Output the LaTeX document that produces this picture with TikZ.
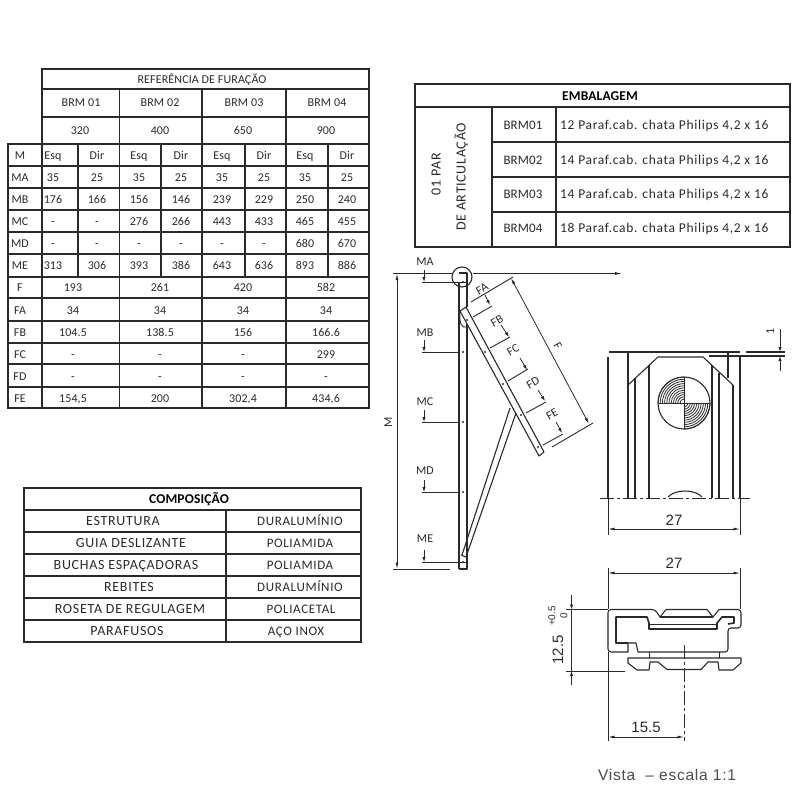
\documentclass[tikz,border=0pt]{standalone}
\usepackage{fontspec}
\usetikzlibrary{arrows.meta}
\newfontfamily\isofont[LetterSpace=1]{Carlito}
\newfontfamily\wideiso[LetterSpace=5]{Carlito}
\newfontfamily\dimfont{Liberation Sans}
\newfontfamily\vistafont[LetterSpace=5]{Liberation Sans}
\definecolor{inkc}{HTML}{2A2A2A}
\begin{document}
\begin{tikzpicture}[x=1pt,y=-1pt]

\tikzset{tabline/.style={line width=1.1pt,draw=inkc,line cap=round},}
\tikzset{thin line/.style={line width=0.9pt,draw=inkc},}
\tikzset{part/.style={line width=1.1pt,draw=inkc,line join=round},}
\tikzset{dimarrow/.style={line width=0.8pt,draw=inkc,<->,>={Latex[length=6.5pt,width=3pt]}},}
\tikzset{markarrow/.style={line width=0.8pt,draw=inkc,->,>={Latex[length=5pt,width=3.4pt]}},}
\tikzset{axis/.style={line width=0.8pt,draw=inkc,dash pattern=on 14pt off 3pt on 3pt off 3pt},}
\tikzset{cell/.style={inner sep=0pt,text=inkc,text height=8pt,text depth=0pt,font=\isofont\fontsize{12}{14}\selectfont},}
\tikzset{cellbig/.style={inner sep=0pt,text=inkc,text height=9pt,text depth=0pt,font=\wideiso\fontsize{14}{16}\selectfont},}
\tikzset{cellmat/.style={cellbig,font=\wideiso\fontsize{13}{15}\selectfont},}
\tikzset{title/.style={inner sep=0pt,text=black,text height=9pt,text depth=0pt,font=\isofont\bfseries\fontsize{13.5}{15}\selectfont},}
\tikzset{dimtext/.style={inner sep=0pt,text=inkc,font=\dimfont\fontsize{15}{17}\selectfont},}

\useasboundingbox (0,0) rectangle (800,800);

% furacao table
\draw[tabline] (42,144) -- (42,69) -- (369,69) -- (369,408) -- (8,408) -- (8,144) -- (369,144);
\foreach \yy in {89,117,166,188,210,232,254,277,298,321,343,364,387}
	\draw[tabline] ({\yy<144 ? 42 : 8},\yy) -- (369,\yy);
\foreach \xx in {42,119.5,202,286}
	\draw[tabline] (\xx,{\xx<43 ? 69 : 89}) -- (\xx,408);
\foreach \xx in {78,161,245,328}
	\draw[tabline] (\xx,144) -- (\xx,277);

\node[cell] (furacao) at (202,79) {REFERÊNCIA DE FURAÇÃO};
\foreach \xx/\txt [count=\i] in {81/BRM 01,160/BRM 02,244/BRM 03,327/BRM 04}
	\node[cell] (brm\i) at (\xx,102) {\txt};
\foreach \xx/\txt [count=\i] in {80/320,160/400,243/650,326/900}
	\node[cell] (mm\i) at (\xx,130) {\txt};

\foreach \yy/\rowlab/\vals in {
	155/M/{Esq,Dir,Esq,Dir,Esq,Dir,Esq,Dir},
	177/MA/{35,25,35,25,35,25,35,25},
	199/MB/{176,166,156,146,239,229,250,240},
	221/MC/{-,-,276,266,443,433,465,455},
	243/MD/{-,-,-,-,-,-,680,670},
	265/ME/{313,306,393,386,643,636,893,886}}{
	\node[cell] (lab\rowlab) at (20,\yy) {\rowlab};
	\foreach \val [count=\i] in \vals {
		\pgfmathsetmacro\xx{{53,97,139,181,222,264,305,347}[\i-1]}
		\node[cell] (c\rowlab\i) at (\xx,\yy) {\val};
	}
}

\foreach \rowlab/\yy/\va/\vb/\vc/\vd in {
	F/287/193/261/420/582,
	FA/310/34/34/34/34,
	FB/332/104.5/138.5/156/166.6,
	FC/354/-/-/-/299,
	FD/376/-/-/-/-,
	FE/398/{154,5}/200/{302,4}/{434,6}}{
	\node[cell] (lab\rowlab) at (20,\yy) {\rowlab};
	\node[cell] (c\rowlab1) at (73,\yy) {\va};
	\node[cell] (c\rowlab2) at (160,\yy) {\vb};
	\node[cell] (c\rowlab3) at (243,\yy) {\vc};
	\node[cell] (c\rowlab4) at (326,\yy) {\vd};
}

% embalagem table
\draw[tabline] (415,84) rectangle (790,247);
\draw[tabline] (415,107) -- (790,107);
\foreach \yy in {142,177,212}
	\draw[tabline] (492,\yy) -- (790,\yy);
\draw[tabline] (492,107) -- (492,247);
\draw[tabline] (556,107) -- (556,247);

\node[title] (embalagem) at (600,96) {EMBALAGEM};
\node[cellbig,rotate=90] (par) at (436,174) {01 PAR};
\node[cellbig,rotate=90] (articulacao) at (461,177) {DE ARTICULAÇÃO};
\foreach \yy/\code/\qty in {125/BRM01/12,160/BRM02/14,194/BRM03/14,228/BRM04/18}{
	\node[cell,font=\isofont\fontsize{13}{15}\selectfont] (\code) at (523,\yy) {\code};
	\node[cellbig,anchor=west,font=\wideiso\fontsize{13.5}{15}\selectfont] (desc\code) at (560,\yy) {\qty{} Paraf.cab. chata Philips 4,2 x 16};
}

% composicao table
\draw[tabline] (24,488) rectangle (361,642);
\foreach \yy in {510,532,554,576,598,620}
	\draw[tabline] (24,\yy) -- (361,\yy);
\draw[tabline] (226,510) -- (226,642);

\node[title] (composicao) at (189,499) {COMPOSIÇÃO};
\foreach \yy/\xa/\parte/\xb/\mat [count=\i] in {
	521/123/ESTRUTURA/300/DURALUMÍNIO,
	543/131/GUIA DESLIZANTE/300/POLIAMIDA,
	565/126/BUCHAS ESPAÇADORAS/300/POLIAMIDA,
	587/129/REBITES/300/DURALUMÍNIO,
	609/130/ROSETA DE REGULAGEM/301/POLIACETAL,
	631/127/PARAFUSOS/296/AÇO INOX}{
	\node[cellbig] (parte\i) at (\xa,\yy) {\parte};
	\node[cellmat] (mat\i) at (\xb,\yy) {\mat};
}

% side view
\draw[thin line] (393,273.5) -- (452,273.5);
\draw[thin line,->,>={Latex[length=7pt,width=3pt]}] (473,273.5) -- (622,273.5);
\draw[part] (462,277) circle (10);
\draw[part,line width=1.6pt] (459,282) -- (459,569);
\draw[part] (459,273) -- (467,273) -- (467,307);
\draw[part] (467,324) -- (467,569) -- (459,569);
\draw[thin line] (459,282) -- (467,282);
\draw[thin line] (459,562) -- (467,562);
\foreach \yy in {282,352,422,492,562}
	\fill[inkc] (463,\yy) circle (1.2);

\draw[dimarrow] (397,273.5) -- (397,569);
\draw[thin line] (393,569) -- (450,569);
\node[cell,rotate=90] (dimM) at (388,422) {M};

\foreach \yy/\rowlab/\ty in {282/MA/261,352/MB/332,422/MC/401,492/MD/470,562/ME/538}{
	\node[cell] (mark\rowlab) at (425,\ty) {\rowlab};
	\draw[thin line] (422,\yy) -- (460,\yy);
	\draw[markarrow] (424,\yy-12) -- (424,\yy);
}

% inclined arm
\draw[part] (460,311) -- (466,307) -- (544,452) -- (539,456) -- cycle;
\draw[thin line] (460,311) .. controls (459,322) and (461,329) .. (467,327);
\foreach \xx/\yy in {467/320,485/352,503/384,521/415,538/447}
	\fill[inkc] (\xx,\yy) circle (1.1);
\draw[part] (510,408) -- (462,555);
\draw[part] (516,413) -- (466,557) -- (461,555);

\draw[dimarrow] (511,278) -- (589,424);
\draw[thin line] (471,302) -- (513,277);
\draw[thin line] (552,447) -- (593,423);
\draw[thin line] (473,317) -- (492,306);
\draw[thin line] (490,348) -- (510,337);
\draw[thin line] (508,381) -- (528,369);
\draw[thin line] (526,413) -- (546,402);
\draw[thin line] (543,445) -- (563,434);
\foreach \xa/\ya/\xb/\yb/\txt/\tx/\ty in {
	485/295/490/305/FA/482/289,
	501/325/509/337/FB/497/321,
	520/358/527/370/FC/513/350,
	538/390/545/401/FD/533/383,
	556/422/562/433/FE/552/414}{
	\draw[markarrow] (\xa,\ya) -- (\xb,\yb);
	\node[cell,rotate=30] (arm\txt) at (\tx,\ty) {\txt};
}
\node[cell,rotate=-60] (dimF) at (558,346) {F};

% middle view
\draw[part] (609,352) -- (740,352);
\draw[part] (746,352) -- (785,352);
\draw[part] (709,356) -- (785,356);
\draw[part] (628,385) -- (658,357) -- (703,357) -- (733,385);
\draw[part] (608,357) -- (608,498);
\draw[part] (740,356) -- (740,498);
\foreach \xx/\ya in {628/352,635/378,649/365,712/365,719/373,733/385}
	\draw[part] (\xx,\ya) -- (\xx,498);
\draw[part] (728,352) -- (728,378);
\draw[axis] (600,498) -- (750,498);
\draw[part] (668,497) .. controls (675,489) and (695,489) .. (702,497);

\draw[part] (684,403) circle (26);
\foreach \rr in {4,6.2,...,26}{
	\draw[line width=0.8pt,draw=inkc] ([shift={(90:\rr pt)}]684,403) arc[start angle=90,end angle=180,radius=\rr pt];
	\draw[line width=0.8pt,draw=inkc] ([shift={(270:\rr pt)}]684,403) arc[start angle=270,end angle=360,radius=\rr pt];
}
\draw[thin line] (658,403) -- (710,403);
\draw[thin line] (684,377) -- (684,429);

\draw[thin line] (608,498) -- (608,535);
\draw[thin line] (740,498) -- (740,535);
\draw[dimarrow] (608,529) -- (740,529);
\node[dimtext] (dimA) at (674,520) {27};

\draw[markarrow] (780,329) -- (780,352);
\draw[markarrow] (780,371) -- (780,356);
\node[cell,rotate=90] (dimB) at (770,331) {1};

% profile view
\draw[part,rounded corners=3pt] (608,609.5) -- (655,609.5) [sharp corners] -- (660,617) -- (666,609.5) -- (707,609.5) -- (713,617) -- (719,609.5) [rounded corners=3pt] -- (741,609.5) -- (741,628) -- (728,628) -- (728,652) [sharp corners] -- (638,652) -- (636,643) -- (628,643) -- (628,652) [rounded corners=3pt] -- (608,652) -- cycle;
\draw[part] (660,617) -- (713,617);
\draw[part,line width=1.6pt] (628,643) -- (616,643) -- (616,617) -- (647,617) -- (649,623) -- (649,629) -- (717,629) -- (717,623) -- (722,617) -- (734,617) -- (734,623) -- (728,624);
\draw[thin line] (650,624) -- (717,624);
\draw[part] (628,658) -- (741,658) -- (741,663) -- (733,670) -- (719,670) -- (718,662) -- (708,662) -- (701,669.5) -- (667,669.5) -- (658,662) -- (650,662) -- (649,670) -- (637,670) -- (628,663) -- cycle;
\draw[thin line] (649,652) -- (649,658);
\draw[thin line] (719,652) -- (719,658);
\draw[axis] (684,645) -- (684,741);

\draw[thin line] (608,568) -- (608,609);
\draw[thin line] (608,652) -- (608,741);
\draw[thin line] (740,568) -- (740,609);
\draw[dimarrow] (608,573) -- (740,573);
\node[dimtext] (dimC) at (674,563) {27};

\draw[dimarrow] (608,737) -- (684,737);
\node[dimtext] (dimD) at (646,727) {15.5};

\draw[thin line] (566,609.5) -- (608,609.5);
\draw[thin line] (566,671) -- (625,671);
\draw[thin line] (571.5,609.5) -- (571.5,671);
\draw[markarrow] (571.5,595) -- (571.5,609.5);
\draw[markarrow] (571.5,685) -- (571.5,671);
\node[dimtext,rotate=90] (dimE) at (558,650) {12.5};
\node[dimtext,rotate=90,font=\dimfont\fontsize{10}{11}\selectfont] (dimF1) at (552,616) {+0.5};
\node[dimtext,rotate=90,font=\dimfont\fontsize{10}{11}\selectfont] (dimF2) at (564,616) {0};

\node[dimtext,text=black!70,font=\vistafont\fontsize{15.5}{17}\selectfont] (vista) at (667,775) {Vista\ \ – escala 1:1};

\end{tikzpicture}
\end{document}
